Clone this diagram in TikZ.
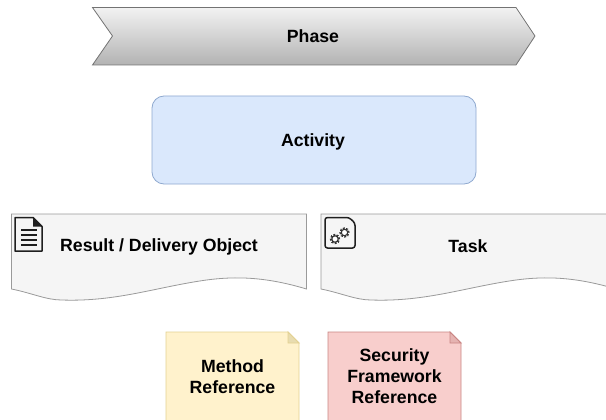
\documentclass[tikz,border=0pt]{standalone}
\usepackage{fontspec}
\setmainfont{Liberation Sans}
\definecolor{docfill}{HTML}{F5F5F5}
\definecolor{docline}{HTML}{9A9A9A}
\definecolor{actfill}{HTML}{DAE8FC}
\definecolor{actline}{HTML}{8FA9CF}
\definecolor{yelfill}{HTML}{FFF2CC}
\definecolor{yelline}{HTML}{E3D191}
\definecolor{yelfold}{HTML}{E8DCB0}
\definecolor{redfill}{HTML}{F8CECC}
\definecolor{redline}{HTML}{C98583}
\definecolor{redfold}{HTML}{E5B3B1}
\tikzset{
  label/.style={font=\bfseries\fontsize{17.7}{21}\selectfont,align=center,text=black,inner sep=0pt},
  docshape/.style={draw=docline,fill=docfill,line width=.8pt},
  icon/.style={draw=black!88,line width=1.5pt,fill=none,line join=round},
  gear/.style={draw=black!80,line width=1.1pt,fill=white},
  geartooth/.style={draw=black!80,line width=1.9pt,dash pattern=on 1.7pt off 1.5pt},
}
\newcommand{\wavedoc}[2]{%
  \draw[docshape] (#1,214) -- (#2,214) -- (#2,289)
    .. controls ({#2-40},277) and ({#2-70},276) .. ({#2-100},280)
    .. controls ({#2-150},287) and ({#2-190},302) .. ({#1+50},300)
    .. controls ({#1+35},300) and ({#1+20},293) .. (#1,289) -- cycle;}
\begin{document}
\begin{tikzpicture}[x=1pt,y=-1pt]
\useasboundingbox (0,0) rectangle (606,420);
\clip (0,0) rectangle (606,420);
% Phase
\draw[draw=black!55,line width=.8pt,top color=black!5,bottom color=black!30]
  (92.5,7.5) -- (516,7.5) -- (535,36) -- (516,65) -- (92.5,65) -- (112.5,36) -- cycle;
\node[label] (phase) at (313,36) {Phase};
% Activity
\draw[draw=actline,fill=actfill,line width=.8pt,rounded corners=12pt] (152,96) rectangle (476,184);
\node[label] (activity) at (313,142) {Activity};
% Result
\wavedoc{11.5}{306.5}
\node[label] (result) at (159,247) {Result / Delivery Object};
\draw[icon] (15,217.5) -- (33,217.5) -- (42,226.5) -- (42,251) -- (15,251) -- cycle;
\fill[black!88] (33,217.5) -- (42,226.5) -- (33,226.5) -- cycle;
\foreach \yy in {230,235,240,245} \draw[black!88,line width=1.1pt] (21,\yy) -- (36.5,\yy);
% Task
\wavedoc{321}{616}
\node[label] (task) at (468,246) {Task};
\draw[icon,rounded corners=2.5pt] (325,217.5) -- (349,217.5) -- (355,223) -- (355,248) -- (325,248) -- cycle;
\draw[geartooth] (335,239) circle (4.2pt);
\draw[gear] (335,239) circle (3.2pt);
\draw[geartooth] (344.5,232.5) circle (4.2pt);
\draw[gear] (344.5,232.5) circle (3.2pt);
% Method
\draw[draw=yelline,fill=yelfill,line width=.9pt] (166,332) -- (288,332) -- (299,343) -- (299,430) -- (166,430) -- cycle;
\draw[draw=yelline,fill=yelfold,line width=.9pt] (288,332) -- (299,343) -- (288,343) -- cycle;
\node[label] (method) at (232.5,376.5) {Method\\Reference};
% Security
\draw[draw=redline,fill=redfill,line width=.9pt] (328,332) -- (450,332) -- (461,343) -- (461,430) -- (328,430) -- cycle;
\draw[draw=redline,fill=redfold,line width=.9pt] (450,332) -- (461,343) -- (450,343) -- cycle;
\node[label] (security) at (394.5,376) {Security\\Framework\\Reference};
\end{tikzpicture}
\end{document}
